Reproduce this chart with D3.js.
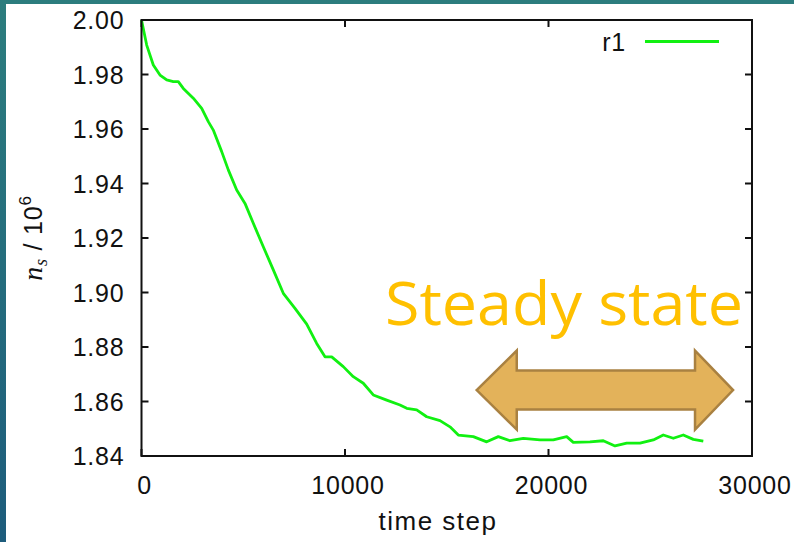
<!DOCTYPE html>
<head>
  <meta charset="utf-8">
  <style>
    body { margin: 0; }
    .tick-label { font-family: "Liberation Sans", Arial, sans-serif; font-size: 25px; letter-spacing: 0.8px; fill: #111; }
  </style>
  <script src="https://cdn.jsdelivr.net/npm/d3@7"></script>
</head>
<body>
<script>
  // values: time step vs n_s / 10^6
  var steps = [0, 255, 580, 909, 1238, 1563, 1808, 2054, 2545, 2958, 3283, 3528, 3941, 4265, 4678,
               5086, 5494, 5985, 6477, 6968, 7543, 8118, 8609, 9017, 9346, 9916, 10408, 10899, 11390,
               12049, 12703, 13032, 13523, 14015, 14668, 15160, 15568, 16305, 16963, 17533, 18108,
               18762, 19582, 20236, 20894, 21219, 22039, 22693, 23268, 23843, 24496, 25150, 25641,
               26133, 26624, 27116, 27607];
  var ns = [2.000, 1.9908, 1.9835, 1.9798, 1.9780, 1.9774, 1.9774, 1.9749, 1.9713, 1.9676, 1.9627,
            1.9596, 1.9517, 1.9450, 1.9376, 1.9327, 1.9254, 1.9168, 1.9083, 1.8997, 1.8942, 1.8884,
            1.8813, 1.8764, 1.8764, 1.8728, 1.8691, 1.8667, 1.8624, 1.8605, 1.8587, 1.8575, 1.8569,
            1.8544, 1.8530, 1.8507, 1.8477, 1.8471, 1.8452, 1.8471, 1.8456, 1.8465, 1.8459, 1.8459,
            1.8471, 1.8450, 1.8452, 1.8456, 1.8437, 1.8447, 1.8447, 1.8459, 1.8477, 1.8465, 1.8477,
            1.8461, 1.8455];
  var xTicks = [0, 10000, 20000, 30000];
  var yTicks = [1.84, 1.86, 1.88, 1.90, 1.92, 1.94, 1.96, 1.98, 2.00];
  var seriesName = "r1";
  // steady state arrow: tip, head base, head base, tip (time steps)
  var steadyArrow = [16470, 18440, 27200, 29070];

  var w = 794, h = 542;
  var pLeft = 141.5, pRight = 752, pTop = 20, pBottom = 456;

  var svg = d3.select("body").append("svg")
    .attr("width", w).attr("height", h);

  var defs = svg.append("defs");
  var grad = defs.append("linearGradient").attr("id", "bg")
    .attr("x1", 0).attr("y1", 0).attr("x2", 0).attr("y2", 1);
  grad.append("stop").attr("offset", "0%").attr("stop-color", "#2c7d7e");
  grad.append("stop").attr("offset", "100%").attr("stop-color", "#1d5c7c");

  svg.append("rect").attr("width", w).attr("height", h).attr("fill", "url(#bg)");
  svg.append("rect").attr("x", 6).attr("y", 4).attr("width", w - 6).attr("height", h - 4)
    .attr("fill", "#ffffff");

  var x = d3.scaleLinear().domain([0, 30000]).range([pLeft, pRight]);
  var y = d3.scaleLinear().domain([1.84, 2.00]).range([pBottom, pTop]);

  // ticks (inward, mirrored)
  var tl = 7;
  var g = svg.append("g").attr("stroke", "#111").attr("stroke-width", 2);
  xTicks.forEach(function(t) {
    g.append("line").attr("x1", x(t)).attr("x2", x(t)).attr("y1", pBottom).attr("y2", pBottom - tl);
    g.append("line").attr("x1", x(t)).attr("x2", x(t)).attr("y1", pTop).attr("y2", pTop + tl);
  });
  yTicks.forEach(function(t) {
    g.append("line").attr("x1", pLeft).attr("x2", pLeft + tl).attr("y1", y(t)).attr("y2", y(t));
    g.append("line").attr("x1", pRight).attr("x2", pRight - tl).attr("y1", y(t)).attr("y2", y(t));
  });

  svg.selectAll("text.ylab").data(yTicks).enter().append("text")
    .attr("class", "tick-label")
    .attr("x", pLeft - 17)
    .attr("y", function(d) { return y(d) + 9; })
    .attr("text-anchor", "end")
    .text(function(d) { return d3.format(".2f")(d); });

  svg.selectAll("text.xlab").data(xTicks).enter().append("text")
    .attr("class", "tick-label")
    .attr("x", function(d) { return x(d) + 3; })
    .attr("y", 494)
    .attr("text-anchor", "middle")
    .text(function(d) { return d; });

  // axis titles
  svg.append("text").attr("class", "tick-label")
    .attr("x", 438).attr("y", 530).attr("text-anchor", "middle")
    .style("font-size", "26px").style("letter-spacing", "1.5px")
    .text("time step");

  var yt = svg.append("text").attr("class", "tick-label")
    .attr("transform", "translate(42,238) rotate(-90)")
    .attr("text-anchor", "middle");
  yt.append("tspan").attr("font-family", "Liberation Serif, serif").attr("font-style", "italic")
    .style("font-size", "28px").text("n");
  yt.append("tspan").attr("font-family", "Liberation Serif, serif").attr("font-style", "italic")
    .style("font-size", "18px").attr("dy", 5).text("s");
  yt.append("tspan").attr("dy", -5).text(" / 10");
  yt.append("tspan").style("font-size", "17px").attr("dy", -11).text("6");

  // data line
  var data = steps.map(function(s, i) { return [s, ns[i]]; });
  svg.append("path").datum(data)
    .attr("fill", "none")
    .attr("stroke", "#11f011")
    .attr("stroke-width", 2.8)
    .attr("stroke-linejoin", "round")
    .attr("d", d3.line().x(function(d) { return x(d[0]); }).y(function(d) { return y(d[1]); }));

  // frame
  svg.append("rect").attr("x", pLeft).attr("y", pTop)
    .attr("width", pRight - pLeft).attr("height", pBottom - pTop)
    .attr("fill", "none").attr("stroke", "#111").attr("stroke-width", 2);

  // legend
  svg.append("text").attr("class", "tick-label")
    .attr("x", 626).attr("y", 51).attr("text-anchor", "end").text(seriesName);
  svg.append("line").attr("x1", 645).attr("x2", 719).attr("y1", 41.5).attr("y2", 41.5)
    .attr("stroke", "#11f011").attr("stroke-width", 2.8);

  // steady state annotation
  svg.append("text")
    .attr("x", 385).attr("y", 325)
    .attr("font-family", "Open Sans, Lato, sans-serif")
    .attr("font-size", "60px")
    .attr("fill", "#ffc000")
    .attr("textLength", 358).attr("lengthAdjust", "spacingAndGlyphs")
    .text("Steady state");

  var cy = 1.8642, head = 0.0145, shaft = 0.00716;
  var a = steadyArrow;
  var pts = [
    [a[0], cy], [a[1], cy + head], [a[1], cy + shaft], [a[2], cy + shaft], [a[2], cy + head],
    [a[3], cy], [a[2], cy - head], [a[2], cy - shaft], [a[1], cy - shaft], [a[1], cy - head]
  ];
  svg.append("polygon")
    .attr("points", pts.map(function(p) { return x(p[0]) + "," + y(p[1]); }).join(" "))
    .attr("fill", "#e3b25a")
    .attr("stroke", "#a98141")
    .attr("stroke-width", 2.5)
    .attr("stroke-linejoin", "miter");
</script>
</body>
